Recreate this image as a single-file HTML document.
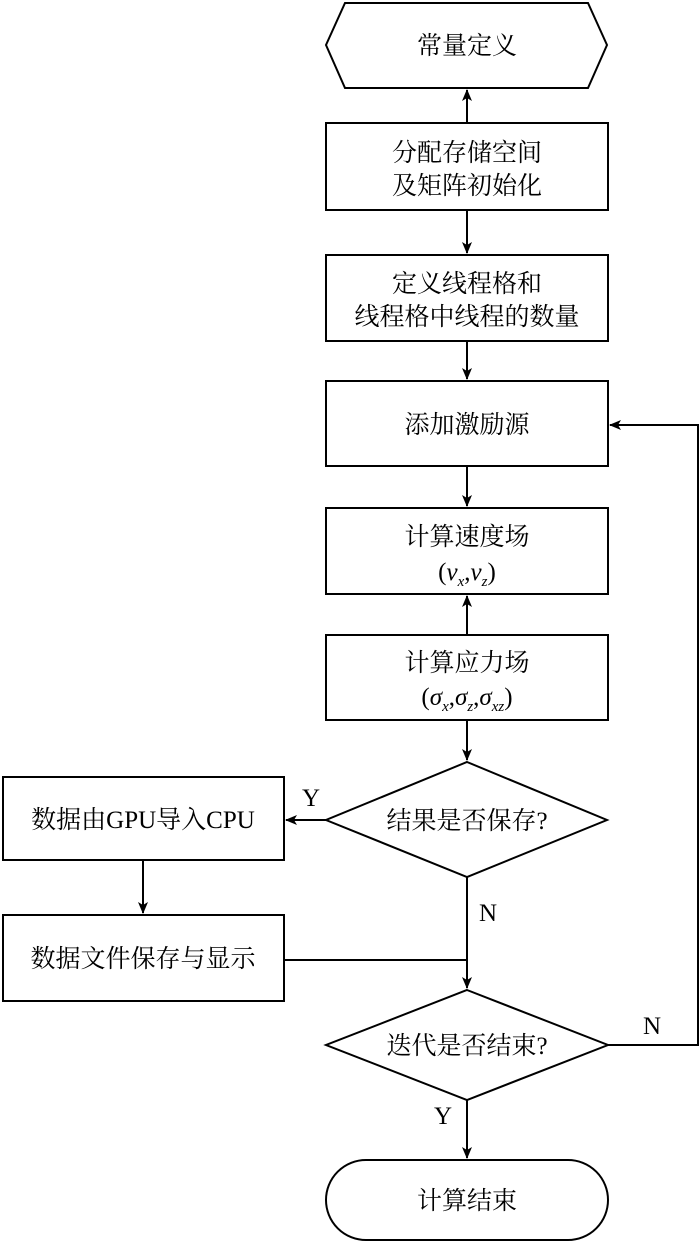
<!DOCTYPE html>
<html><head><meta charset="utf-8"><style>
html,body{margin:0;padding:0;background:#fff}
svg{display:block}
text{font-family:"Liberation Serif","Noto Serif CJK SC","Noto Sans CJK SC",serif;font-size:25px;fill:#000}
</style></head><body>
<svg width="700" height="1243" viewBox="0 0 700 1243" xmlns="http://www.w3.org/2000/svg">
<defs><marker id="a" markerWidth="12" markerHeight="10" refX="11" refY="5" orient="auto" markerUnits="userSpaceOnUse"><path d="M0,0 L12,5 L0,10 L3,5 Z" fill="#000"/></marker></defs>
<g fill="none" stroke="#000" stroke-width="2">
<polygon points="345,3 588,3 607,45 588,88 345,88 326,45"/>
<rect x="326" y="123" width="282" height="87"/>
<rect x="326" y="255" width="282" height="86"/>
<rect x="326" y="381" width="282" height="85"/>
<rect x="326" y="508" width="282" height="86"/>
<rect x="326" y="635" width="282" height="85"/>
<polygon points="467,762 607,820 467,877 326,820"/>
<rect x="3" y="777" width="281" height="83"/>
<rect x="3" y="915" width="281" height="86"/>
<polygon points="467,990 608,1045 467,1100 326,1045"/>
<rect x="326" y="1160" width="282" height="80" rx="40"/>
<line x1="467" y1="123" x2="467" y2="90" marker-end="url(#a)"/>
<line x1="467" y1="210" x2="467" y2="253" marker-end="url(#a)"/>
<line x1="467" y1="341" x2="467" y2="379" marker-end="url(#a)"/>
<line x1="467" y1="466" x2="467" y2="506" marker-end="url(#a)"/>
<line x1="467" y1="635" x2="467" y2="596" marker-end="url(#a)"/>
<line x1="467" y1="720" x2="467" y2="760" marker-end="url(#a)"/>
<line x1="326" y1="820" x2="286" y2="820" marker-end="url(#a)"/>
<line x1="143" y1="860" x2="143" y2="913" marker-end="url(#a)"/>
<line x1="467" y1="877" x2="467" y2="988" marker-end="url(#a)"/>
<line x1="284" y1="960" x2="467" y2="960"/>
<polyline points="608,1045 698,1045 698,425 610,425" marker-end="url(#a)"/>
<line x1="467" y1="1100" x2="467" y2="1158" marker-end="url(#a)"/>
</g>
<g text-anchor="middle">
<text x="467" y="54">常量定义</text>
<text x="467" y="161">分配存储空间</text>
<text x="467" y="194">及矩阵初始化</text>
<text x="467" y="292">定义线程格和</text>
<text x="467" y="325">线程格中线程的数量</text>
<text x="467" y="433">添加激励源</text>
<text x="467" y="545">计算速度场</text>
<text x="467" y="580">(<tspan font-style="italic">v</tspan><tspan font-style="italic" font-size="15" dy="6">x</tspan><tspan dy="-6">,</tspan><tspan font-style="italic">v</tspan><tspan font-style="italic" font-size="15" dy="6">z</tspan><tspan dy="-6">)</tspan></text>
<text x="467" y="671">计算应力场</text>
<text x="467" y="705">(<tspan font-style="italic">σ</tspan><tspan font-style="italic" font-size="15" dy="6">x</tspan><tspan dy="-6">,</tspan><tspan font-style="italic">σ</tspan><tspan font-style="italic" font-size="15" dy="6">z</tspan><tspan dy="-6">,</tspan><tspan font-style="italic">σ</tspan><tspan font-style="italic" font-size="15" dy="6">xz</tspan><tspan dy="-6">)</tspan></text>
<text x="467" y="829">结果是否保存?</text>
<text x="143" y="828">数据由GPU导入CPU</text>
<text x="143" y="967">数据文件保存与显示</text>
<text x="467" y="1054">迭代是否结束?</text>
<text x="467" y="1209">计算结束</text>
<text x="311" y="806">Y</text>
<text x="488" y="921">N</text>
<text x="652" y="1034">N</text>
<text x="443" y="1124">Y</text>
</g>
</svg>
</body></html>
